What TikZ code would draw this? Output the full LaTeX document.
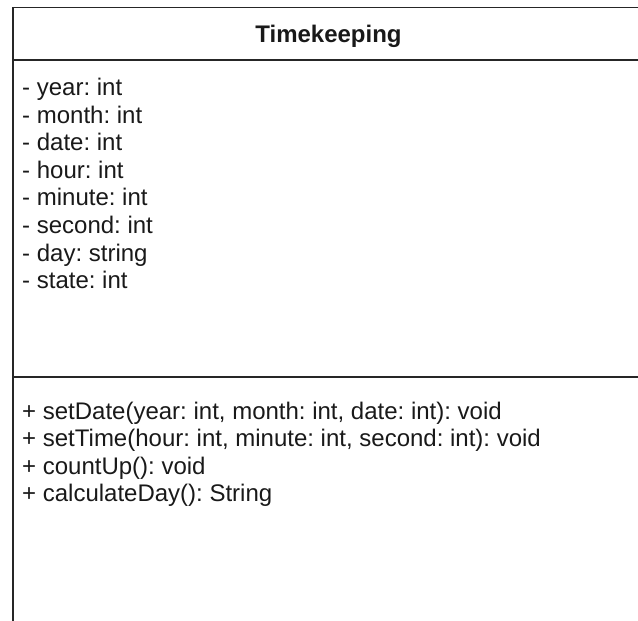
\documentclass[tikz,border=0pt]{standalone}
\usepackage{fontspec}
\setmainfont{Liberation Sans}
\frenchspacing
\begin{document}
\begin{tikzpicture}[x=1pt,y=-1pt,
  umlline/.style={line width=1.8pt,draw=black!85},
  member/.style={anchor=base west,inner sep=0pt,font=\fontsize{24}{28}\selectfont\frenchspacing,text=black!90},
  title/.style={anchor=base,inner sep=0pt,font=\fontsize{24}{28}\selectfont\bfseries,text=black!90}]
\useasboundingbox (0,0) rectangle (638,621);
% class frame (open on the right and bottom, as in the reference)
\coordinate (tl) at (13,7.5);
\coordinate (tr) at (645,7.5);
\coordinate (bl) at (13,625);
\coordinate (d1l) at (13,60);
\coordinate (d1r) at (645,60);
\coordinate (d2l) at (13,377);
\coordinate (d2r) at (645,377);
\draw[umlline] (bl) -- (tl) -- (tr);
\draw[umlline] (d1l) -- (d1r);
\draw[umlline] (d2l) -- (d2r);
% title
\node[title] (name) at (328.5,42.5) {Timekeeping};
% attributes
\node[member] (a1) at (22,95.5) {- year: int};
\node[member] (a2) at (22,123.1) {- month: int};
\node[member] (a3) at (22,150.7) {- date: int};
\node[member] (a4) at (22,178.3) {- hour: int};
\node[member] (a5) at (22,205.9) {- minute: int};
\node[member] (a6) at (22,233.5) {- second: int};
\node[member] (a7) at (22,261.1) {- day: string};
\node[member] (a8) at (22,288.7) {- state: int};
% operations
\node[member] (m1) at (22,419) {+ setDate(year: int, month: int, date: int): void};
\node[member] (m2) at (22,446.6) {+ setTime(hour: int, minute: int, second: int): void};
\node[member] (m3) at (22,474.2) {+ countUp(): void};
\node[member] (m4) at (22,501.8) {+ calculateDay(): String};
\end{tikzpicture}
\end{document}
